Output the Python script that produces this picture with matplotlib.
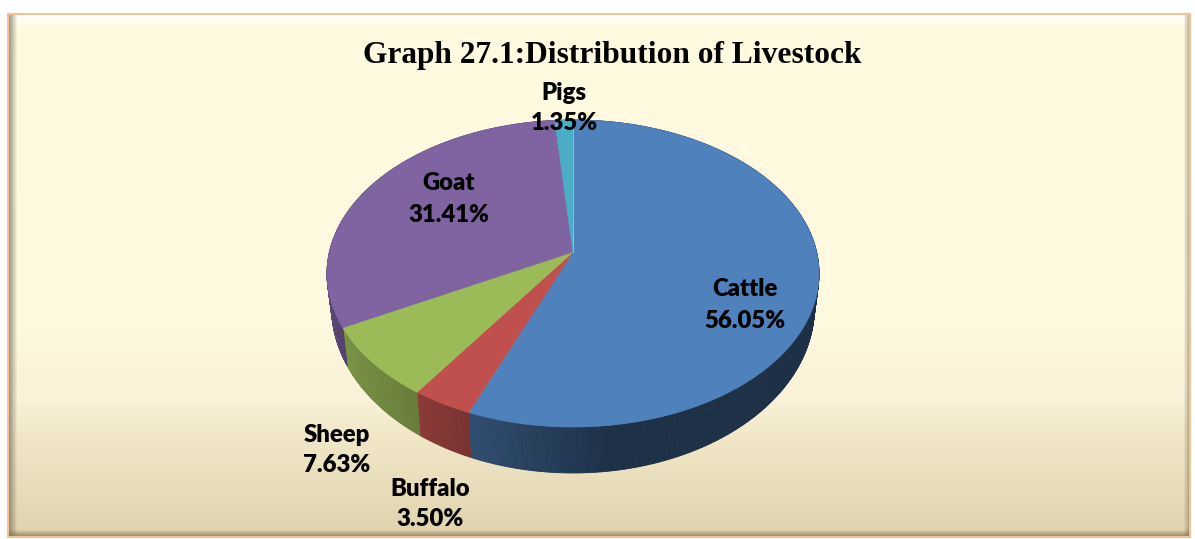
import numpy as np
import matplotlib
matplotlib.use("Agg")
import matplotlib.pyplot as plt
from matplotlib.collections import PolyCollection
from matplotlib.patches import Rectangle

# Data
categories = ["Cattle", "Buffalo", "Sheep", "Goat", "Pigs"]
shares = [56.05, 3.50, 7.63, 31.41, 1.35]
share_labels = ["56.05%", "3.50%", "7.63%", "31.41%", "1.35%"]

# Style
colors = ["#4F81BD", "#C0504D", "#9BBB59", "#8064A2", "#4BACC6"]
side_shade = [(0.60, 0.37, 470, 610), (0.72, 0.62, 422, 473), (0.78, 0.66, 349, 422),
              (0.72, 0.66, 328, 349), (0.6, 0.6, 550, 575)]
label_pos = [(745, 305), (430, 504), (337, 450), (449, 199), (564, 108)]

W, H = 1195, 539
fig = plt.figure(figsize=(W / 100, H / 100), dpi=100)
ax = fig.add_axes([0, 0, 1, 1])
ax.set_xlim(0, W)
ax.set_ylim(H, 0)
ax.axis("off")

# Panel background with bevelled edges
L, R_, T, B = 8, 1190, 14, 537
yy, xx = np.mgrid[0:H, 0:W]
stops_y = [28, 320, 400, 440, 530]
stops_c = np.array([[255, 251, 223], [255, 249, 224], [249, 241, 216], [240, 230, 198], [225, 212, 175]]) / 255
img = np.dstack([np.interp(yy, stops_y, stops_c[:, i]) for i in range(3)])


def blend(img, amount, col):
    a = np.clip(amount, 0, 1)[..., None]
    return img * (1 - a) + np.array(col) * a


img = blend(img, np.interp(yy, [T, T + 14], [1, 0]), (1, 1, 1))
img = blend(img, np.interp(xx, [L, L + 9], [0.75, 0]), (0.45, 0.42, 0.35))
img = blend(img, np.interp(xx, [R_ - 7, R_], [0, 0.7]), (0.5, 0.46, 0.36))
img = blend(img, np.interp(yy, [B - 8, B], [0, 0.75]), (0.42, 0.38, 0.28))
img[:T] = 1
img[B:] = 1
img[:, :L] = 1
img[:, R_:] = 1
ax.imshow(img, extent=(0, W, H, 0), aspect="auto", interpolation="nearest", zorder=0)
ax.add_patch(Rectangle((L, T), R_ - L, B - T, fill=False, ec="#F5C197", lw=1.5, zorder=1))

# Perspective projection of the pie disc
cx, k, rad = 573.0, 0.14, 243.6
top_apex, top_h = 252.0, 150.5
bot_apex, bot_h, bot_rad = 284.0, 162.5, 239.0


def project(theta, apex, h, r):
    u, v = np.sin(theta), np.cos(theta)
    w = 1 + k * v
    return cx + r * u / w, apex - h * v / w


edges = np.cumsum([0] + shares) / sum(shares) * 2 * np.pi

# Side wall
for i in range(len(shares)):
    th = np.linspace(edges[i], edges[i + 1], max(int((edges[i + 1] - edges[i]) * 150), 2))
    x1, y1 = project(th, top_apex, top_h, rad)
    x2, y2 = project(th, bot_apex, bot_h, bot_rad)
    f1, f2, xa, xb = side_shade[i]
    base = np.array(matplotlib.colors.to_rgb(colors[i]))
    quads, cols = [], []
    for j in range(len(th) - 1):
        quads.append([(x1[j], y1[j]), (x1[j + 1], y1[j + 1]), (x2[j + 1], y2[j + 1]), (x2[j], y2[j])])
        cols.append(base * np.interp(x2[j], [xa, xb], [f1, f2]))
    ax.add_collection(PolyCollection(quads, facecolors=cols, edgecolors=cols, linewidths=0.6, zorder=2))

# Top surface
for i in range(len(shares)):
    th = np.linspace(edges[i], edges[i + 1], 200)
    x, y = project(th, top_apex, top_h, rad)
    ax.fill(np.r_[cx, x], np.r_[top_apex, y], color=colors[i], lw=0.5, zorder=3)
ax.plot([cx, cx], [top_apex, top_apex - top_h / (1 + k)], color="#9DBAD6", lw=0.7, zorder=4)

# Text
ax.text(612, 56, "Graph 27.1:Distribution of Livestock", ha="center", va="center",
        family="Liberation Serif", weight="bold", fontsize=22.6, color="black", zorder=5)
for name, pct, (px, py) in zip(categories, share_labels, label_pos):
    ax.text(px, py, name + "\n" + pct, ha="center", va="center", family="Lato", weight="heavy",
            fontsize=17.2, linespacing=1.5, color="black", zorder=5)

fig.savefig("out.png", dpi=100)
